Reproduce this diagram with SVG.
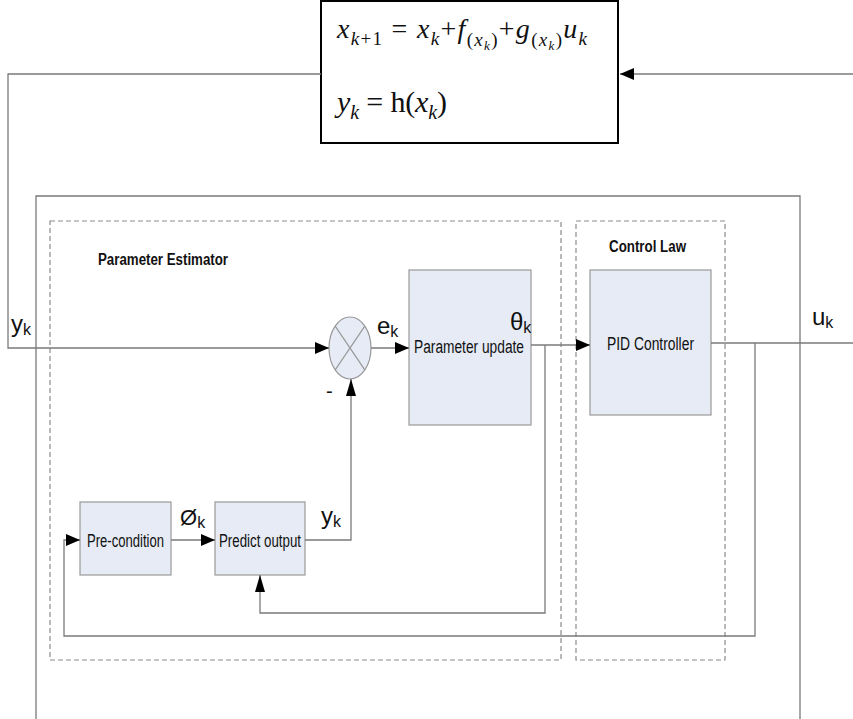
<svg xmlns="http://www.w3.org/2000/svg" width="853" height="719" viewBox="0 0 853 719">
<style>
.ln{fill:none;stroke:#7a7a7a;stroke-width:1.3}
.dash{fill:none;stroke:#8a8a8a;stroke-width:1.2;stroke-dasharray:5,3}
.blk{fill:#e6ebf5;stroke:#999;stroke-width:1.2}
.t{font-family:"Liberation Sans",Arial,sans-serif;fill:#111}
.h{font-family:"Liberation Sans",Arial,sans-serif;font-weight:bold;fill:#111}
.eq{font-family:"Liberation Serif","Times New Roman",serif;font-style:italic;fill:#111}
.up{font-style:normal}
</style>
<defs>
<marker id="ah" markerWidth="14" markerHeight="12" refX="14" refY="6" orient="auto" markerUnits="userSpaceOnUse"><path d="M0,0 L14,6 L0,12 z" fill="#000"/></marker>
<marker id="av" markerWidth="17" markerHeight="10" refX="17" refY="5" orient="auto" markerUnits="userSpaceOnUse"><path d="M0,0 L17,5 L0,10 z" fill="#000"/></marker>
</defs>
<rect width="853" height="719" fill="#fff"/>

<g id="plant">
<rect x="321" y="1" width="297" height="142" fill="#fff" stroke="#000" stroke-width="2"/>
<text class="eq" x="337" y="38" font-size="28" textLength="250" lengthAdjust="spacing">x<tspan dy="7" font-size="19">k</tspan><tspan class="up" font-size="19">+1</tspan><tspan dy="-7" class="up"> = </tspan>x<tspan dy="7" font-size="19">k</tspan><tspan dy="-7" class="up">+</tspan>f<tspan dy="8" font-size="19" class="up">(</tspan><tspan font-size="19">x</tspan><tspan dy="4" font-size="13">k</tspan><tspan dy="-4" font-size="19" class="up">)</tspan><tspan dy="-8" class="up">+</tspan>g<tspan dy="8" font-size="19" class="up">(</tspan><tspan font-size="19">x</tspan><tspan dy="4" font-size="13">k</tspan><tspan dy="-4" font-size="19" class="up">)</tspan><tspan dy="-8">u</tspan><tspan dy="7" font-size="19">k</tspan></text>
<text class="eq" x="337" y="112" font-size="30" textLength="110" lengthAdjust="spacing">y<tspan dy="7" font-size="20">k</tspan><tspan dy="-7" class="up"> = h(</tspan>x<tspan dy="7" font-size="20">k</tspan><tspan dy="-7" class="up">)</tspan></text>
</g>

<g id="frame">
<path class="ln" d="M36,719 V196 H800 V719"/>
</g>

<g id="param-estimator">
<rect class="dash" x="50" y="221" width="511" height="439"/>
<text class="h" x="98" y="265" font-size="16" textLength="130" lengthAdjust="spacingAndGlyphs">Parameter Estimator</text>
</g>

<g id="control-law">
<rect class="dash" x="576" y="221" width="149" height="439"/>
<text class="h" x="609" y="252" font-size="16" textLength="77" lengthAdjust="spacingAndGlyphs">Control Law</text>
</g>

<g id="junction">
<ellipse cx="350" cy="348" rx="21" ry="31" fill="#e6ebf5" stroke="#999" stroke-width="1.2"/>
<path d="M335.2,326.1 L364.8,369.9 M364.8,326.1 L335.2,369.9" fill="none" stroke="#999" stroke-width="1.2"/>
</g>

<g id="parameter-update">
<rect class="blk" x="409" y="270" width="122" height="155"/>
<text class="t" x="414" y="353" font-size="18" textLength="110" lengthAdjust="spacingAndGlyphs">Parameter update</text>
</g>

<g id="pid">
<rect class="blk" x="590" y="270" width="121" height="145"/>
<text class="t" x="607" y="350" font-size="18" textLength="87" lengthAdjust="spacingAndGlyphs">PID Controller</text>
</g>

<g id="pre-condition">
<rect class="blk" x="80" y="502" width="91" height="73"/>
<text class="t" x="87" y="547" font-size="18" textLength="77" lengthAdjust="spacingAndGlyphs">Pre-condition</text>
</g>

<g id="predict-output">
<rect class="blk" x="215" y="502" width="90" height="73"/>
<text class="t" x="219" y="547" font-size="18" textLength="82" lengthAdjust="spacingAndGlyphs">Predict output</text>
</g>

<g id="connectors">
<path class="ln" d="M321,74 H8 V348 H329" marker-end="url(#ah)"/>
<path class="ln" d="M853,74 H620" marker-end="url(#ah)"/>
<path class="ln" d="M371,348 H409" marker-end="url(#ah)"/>
<path class="ln" d="M531,345 H590" marker-end="url(#ah)"/>
<path class="ln" d="M545,345 V613 H260 V575" marker-end="url(#av)"/>
<path class="ln" d="M711,343 H853"/>
<path class="ln" d="M755,343 V636 H64 V540 H80" marker-end="url(#ah)"/>
<path class="ln" d="M171,540 H215" marker-end="url(#ah)"/>
<path class="ln" d="M305,540 H351 V379" marker-end="url(#av)"/>
</g>

<g id="labels">
<text class="t" x="11" y="332" font-size="24">y<tspan dy="3" font-size="16">k</tspan></text>
<text class="t" x="377" y="334" font-size="24">e<tspan dy="3" font-size="16">k</tspan></text>
<text class="t" x="510" y="330" font-size="24">θ<tspan dy="3" font-size="16">k</tspan></text>
<text class="t" x="812" y="325" font-size="24">u<tspan dy="3" font-size="16">k</tspan></text>
<text class="t" x="180" y="525" font-size="22">Ø<tspan dy="3" font-size="16">k</tspan></text>
<text class="t" x="321" y="524" font-size="24">y<tspan dy="3" font-size="16">k</tspan></text>
<text class="t" x="326" y="398" font-size="20">-</text>
</g>
</svg>
